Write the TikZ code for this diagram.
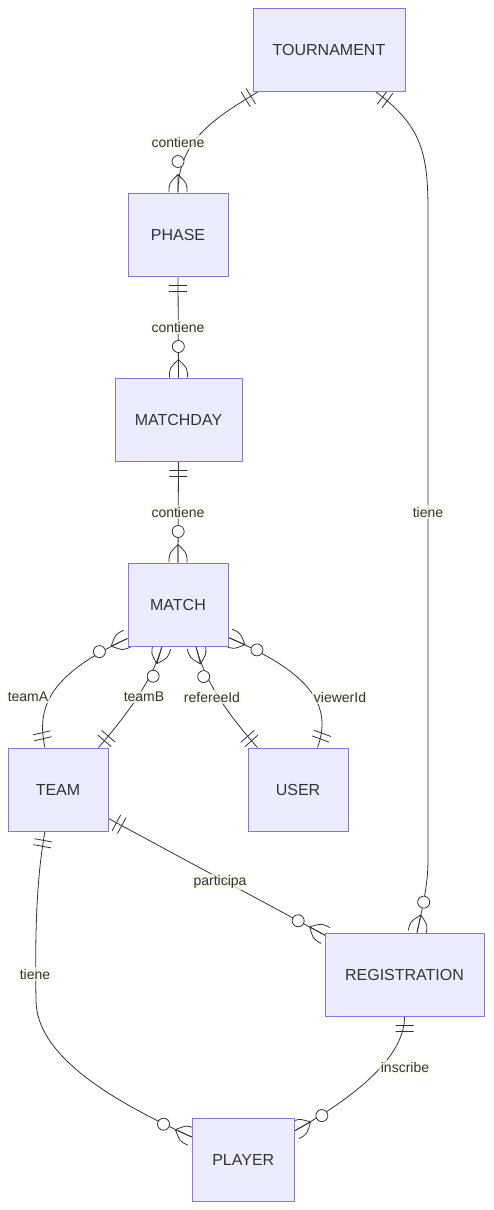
\documentclass[tikz,border=0pt]{standalone}
\usepackage{fontspec}
\setmainfont{Liberation Sans}
\usetikzlibrary{decorations.markings,calc}
\definecolor{nodefill}{HTML}{ECECFF}
\definecolor{nodeline}{HTML}{9370DB}
\definecolor{ink}{HTML}{333333}
\definecolor{lblfill}{RGB}{249,255,236}
\pgfdeclarelayer{bg}
\pgfsetlayers{bg,main}
\tikzset{
  entity/.style={draw=nodeline, fill=nodefill, line width=1pt, text=ink,
    font=\fontsize{16}{19}\selectfont, inner sep=0pt, minimum height=83pt},
  lbl/.style={fill=lblfill, fill opacity=0.7, text opacity=1, text=ink,
    font=\fontsize{14}{16}\selectfont, inner sep=1.5pt},
  erel/.style={draw=ink, line width=0.8pt,
    postaction={decorate, decoration={markings,
      mark=at position 0 with {\draw[ink, line width=0.8pt] (9pt,-9pt)--(9pt,9pt) (15pt,-9pt)--(15pt,9pt);}}},
    postaction={decorate, decoration={markings,
      mark=at position 0.9999 with {\draw[ink, line width=0.8pt] (-18pt,0pt)--(0pt,0pt)
          (-18pt,0pt) .. controls (-9pt,9pt) .. (0pt,9pt)
          (-18pt,0pt) .. controls (-9pt,-9pt) .. (0pt,-9pt);
        \draw[ink, fill=white, line width=0.8pt] (-31pt,0pt) circle (6pt);}}}
  }
}
\begin{document}
\begin{tikzpicture}[x=1pt,y=-1pt]
\useasboundingbox (0,0) rectangle (493,1210);
% entities
\node[entity, minimum width=152pt] (tour) at (329,49.5) {TOURNAMENT};
\node[entity, minimum width=100pt] (phase) at (178,234.5) {PHASE};
\node[entity, minimum width=127pt] (mday) at (178.5,419.5) {MATCHDAY};
\node[entity, minimum width=100pt] (match) at (178,604.5) {MATCH};
\node[entity, minimum width=100pt] (team) at (58,789.5) {TEAM};
\node[entity, minimum width=100pt] (user) at (298,789.5) {USER};
\node[entity, minimum width=159pt] (reg) at (404.5,974.5) {REGISTRATION};
\node[entity, minimum width=102pt] (player) at (243.3,1159.7) {PLAYER};
% relationships
\begin{pgfonlayer}{bg}
\draw[erel] ($(tour.south west)+(6,0)$) .. controls (215,118) and (178,140) .. (phase.north);
\draw[erel] (phase.south) -- (mday.north);
\draw[erel] (mday.south) -- (match.north);
\draw[erel] ($(tour.south east)+(-30,0)$) .. controls (420,125) and (428,150) .. (428,210)
   -- (428,860) .. controls (428,885) and (422.3,908.5) .. ($(reg.north)+(12.5,0)$);
\draw[erel] ($(team.north)+(-13,0)$) .. controls (34,700) and (60,670) .. ($(match.south west)+(0,-8)$);
\draw[erel] ($(team.north east)+(-10,0)$) .. controls (140,700) and (155,670) .. ($(match.south)+(-16,0)$);
\draw[erel] ($(user.north west)+(10,0)$) .. controls (215,700) and (202,670) .. ($(match.south)+(18,0)$);
\draw[erel] ($(user.north east)+(-31,0)$) .. controls (335,700) and (301,669) .. ($(match.south east)+(0,-9)$);
\draw[erel] ($(team.south east)+(0,-13)$) -- ($(reg.north west)+(1,3)$);
\draw[erel] ($(team.south)+(-13,0)$) .. controls (36,880) and (35,940) .. (36,1000)
   .. controls (36,1055) and (110,1100) .. ($(player.west)+(0,-22.7)$);
\draw[erel] (reg.south) .. controls (405,1060) and (346.4,1101.8) .. ($(player.east)+(0,-29)$);
\end{pgfonlayer}
% labels
\node[lbl] (l1) at (178,142) {contiene};
\node[lbl] (l2) at (178,327) {contiene};
\node[lbl] (l3) at (178,512) {contiene};
\node[lbl] (l4) at (428,512) {tiene};
\node[lbl] (l5) at (28,697) {teamA};
\node[lbl] (l6) at (144,697) {teamB};
\node[lbl] (l7) at (212,697) {refereeId};
\node[lbl] (l8) at (340,697) {viewerId};
\node[lbl] (l9) at (220,882) {participa};
\node[lbl] (l10) at (35,974) {tiene};
\node[lbl] (l11) at (405,1067) {inscribe};
\end{tikzpicture}
\end{document}
